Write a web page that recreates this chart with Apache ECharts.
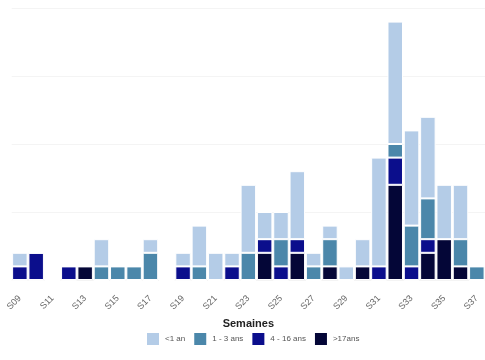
<!DOCTYPE html>
<html><head><meta charset="utf-8">
<script src="https://cdn.jsdelivr.net/npm/echarts@6/dist/echarts.min.js"></script>
<style>html,body{margin:0;padding:0;background:#fff}#c{width:485px;height:360px}</style>
</head><body><div id="c"></div>
<script>
const weeks = ['S09','S10','S11','S12','S13','S14','S15','S16','S17','S18','S19','S20','S21','S22','S23','S24','S25','S26','S27','S28','S29','S30','S31','S32','S33','S34','S35','S36','S37'];
const lt1   = [1,0,0,0,0,2,0,0,1,0,1,3,2,1,5,2,2,5,1,1,1,2,8,9,7,6,4,4,0];
const a1_3  = [0,0,0,0,0,1,1,1,2,0,0,1,0,0,2,0,2,0,1,2,0,0,0,1,3,3,0,2,1];
const a4_16 = [1,2,0,1,0,0,0,0,0,0,1,0,0,1,0,1,1,1,0,0,0,0,1,2,1,1,0,0,0];
const gt17  = [0,0,0,0,1,0,0,0,0,0,0,0,0,0,0,2,0,2,0,1,0,1,0,7,0,2,3,1,0];
const names = ['<1 an','1 - 3 ans','4 - 16 ans','>17ans'];
const colors = {'<1 an':'#b4cce7','1 - 3 ans':'#4b87aa','4 - 16 ans':'#0b0e8c','>17ans':'#040637'};

function mk(name, data){
  return {name, type:'bar', stack:'t', data, barWidth:15.5,
    itemStyle:{color:colors[name], borderColor:'#fff', borderWidth:1},
    emphasis:{disabled:true}};
}
const chart = echarts.init(document.getElementById('c'), null, {renderer:'canvas'});
chart.setOption({
  animation:false,
  grid:{left:11.7, right:-5.8, top:8, bottom:80, containLabel:false},
  legend:{data:names, bottom:8, left:140, itemWidth:14, itemHeight:14, itemGap:7,
    icon:'rect', textStyle:{fontSize:8, color:'#555', fontFamily:'Liberation Sans'}},
  xAxis:{type:'category', data:weeks, name:'Semaines', nameLocation:'middle', nameGap:33,
    nameTextStyle:{fontSize:11, fontWeight:'bold', color:'#222', fontFamily:'Liberation Sans'},
    axisLine:{show:false}, axisTick:{show:false},
    axisLabel:{interval:1, rotate:45, margin:17, fontSize:9, color:'#666', fontFamily:'Liberation Sans'}},
  yAxis:{type:'value', min:0, max:20, interval:5, axisLabel:{show:false},
    axisLine:{show:false}, axisTick:{show:false},
    splitLine:{lineStyle:{color:'#f4f4f4', width:1}}},
  series:[mk('>17ans', gt17), mk('4 - 16 ans', a4_16), mk('1 - 3 ans', a1_3), mk('<1 an', lt1)]
});
</script></body></html>
